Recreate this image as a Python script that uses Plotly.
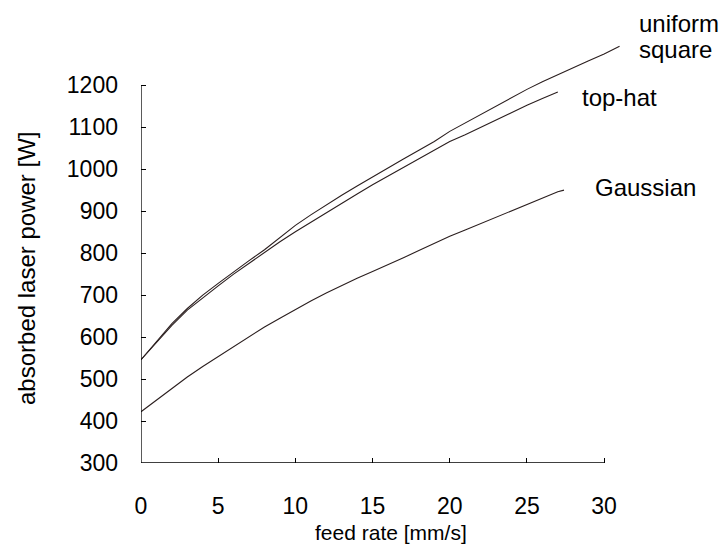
import plotly.graph_objects as go

# ---- data ----
feed_square = [0, 1, 2, 3, 4, 5, 6, 7, 8, 9, 10, 11, 12, 13, 14, 15, 16, 17, 18, 19, 20,
               21, 22, 23, 24, 25, 26, 27, 28, 29, 30, 31]
power_square = [546, 590, 632, 668, 700, 728, 756, 782, 808, 838, 866, 891, 915, 938, 960, 982,
                1003, 1024, 1045, 1066, 1090, 1110, 1128, 1148, 1168, 1190, 1208, 1225, 1242,
                1258, 1274, 1293]

feed_tophat = [0, 1, 2, 3, 4, 5, 6, 7, 8, 9, 10, 11, 12, 13, 14, 15, 16, 17, 18, 19, 20,
               21, 22, 23, 24, 25, 26, 27]
power_tophat = [546, 588, 628, 664, 694, 722, 750, 776, 801, 827, 851, 874, 896, 918, 941, 963,
                984, 1004, 1025, 1046, 1066, 1082, 1100, 1118, 1136, 1152, 1168, 1184]

feed_gauss = [0, 1, 2, 3, 4, 5, 6, 7, 8, 9, 10, 11, 12, 13, 14, 15, 16, 17, 18, 19, 20,
              21, 22, 23, 24, 25, 26, 27, 27.4]
power_gauss = [422, 450, 478, 505, 530, 554, 578, 602, 624, 645, 666, 686, 705, 723, 740, 756,
               772, 789, 806, 823, 840, 855, 870, 885, 900, 916, 931, 946, 950]

x_ticks = [0, 5, 10, 15, 20, 25, 30]
y_ticks = [300, 400, 500, 600, 700, 800, 900, 1000, 1100, 1200]

series_labels = ["uniform", "square", "top-hat", "Gaussian"]
x_title = "feed rate [mm/s]"
y_title = "absorbed laser power [W]"

# ---- layout geometry ----
W, H = 725, 554
ML, MR, MT, MB = 141, 90, 39, 91
PW, PH = W - ML - MR, H - MT - MB
X_RANGE = [0, 32]
Y_RANGE = [300, 1310]


def px_x(px):
    return (px - ML) / PW


def px_y(py):
    return (H - MB - py) / PH


LINE_COLOR = "#2a1e1e"
FONT = "Liberation Sans, Arial, Helvetica, sans-serif"

fig = go.Figure()
for xs, ys in [(feed_square, power_square), (feed_tophat, power_tophat), (feed_gauss, power_gauss)]:
    fig.add_trace(go.Scatter(x=xs, y=ys, mode="lines",
                             line=dict(color=LINE_COLOR, width=1.1), showlegend=False,
                             hoverinfo="skip"))

# axis lines spanning only the tick range
fig.add_shape(type="line", xref="x", yref="y", x0=x_ticks[0], x1=x_ticks[-1],
              y0=y_ticks[0], y1=y_ticks[0], line=dict(color="black", width=1.3))
fig.add_shape(type="line", xref="x", yref="y", x0=x_ticks[0], x1=x_ticks[0],
              y0=y_ticks[0], y1=y_ticks[-1], line=dict(color="black", width=1.3))

fig.update_xaxes(range=X_RANGE, tickvals=x_ticks, ticks="inside", ticklen=5, tickwidth=1.3,
                 tickcolor="black", showgrid=False, zeroline=False, showline=False,
                 tickfont=dict(family=FONT, size=23, color="black"), ticklabelstandoff=27)
fig.update_yaxes(range=Y_RANGE, tickvals=y_ticks, ticks="inside", ticklen=5, tickwidth=1.3,
                 tickcolor="black", showgrid=False, zeroline=False, showline=False,
                 tickfont=dict(family=FONT, size=23, color="black"), ticklabelstandoff=22)

ann = [
    dict(text=series_labels[0], x=px_x(637), y=px_y(23), xanchor="left", yanchor="middle", size=24),
    dict(text=series_labels[1], x=px_x(637), y=px_y(50), xanchor="left", yanchor="middle", size=24),
    dict(text=series_labels[2], x=px_x(580), y=px_y(97), xanchor="left", yanchor="middle", size=24),
    dict(text=series_labels[3], x=px_x(593), y=px_y(188), xanchor="left", yanchor="middle", size=24),
    dict(text=x_title, x=px_x(391), y=px_y(532), xanchor="center", yanchor="middle", size=21),
    dict(text=y_title, x=px_x(26), y=px_y(269), xanchor="center", yanchor="middle", size=24,
         textangle=-90),
]
for a in ann:
    fig.add_annotation(text=a["text"], x=a["x"], y=a["y"], xref="paper", yref="paper",
                       xanchor=a["xanchor"], yanchor=a["yanchor"], showarrow=False,
                       textangle=a.get("textangle", 0),
                       font=dict(family=FONT, size=a["size"], color="black"))

fig.update_layout(width=W, height=H, margin=dict(l=ML, r=MR, t=MT, b=MB),
                  plot_bgcolor="white", paper_bgcolor="white")

fig.write_html("out.html")
